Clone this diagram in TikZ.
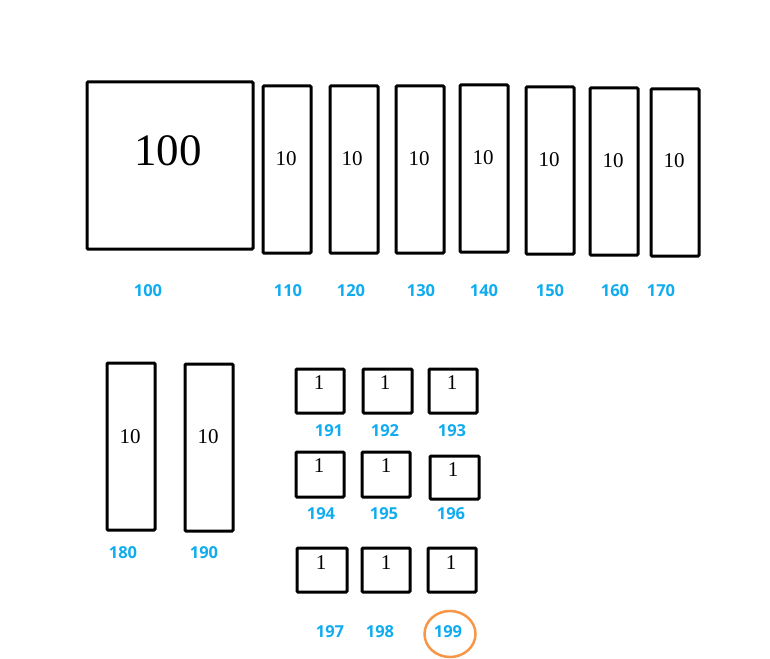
\documentclass[tikz,border=0pt]{standalone}
\usepackage{fontspec}
\usetikzlibrary{shapes.geometric}
\newfontfamily\lblfont{Open Sans}
\newfontfamily\numfont{Liberation Serif}
\definecolor{lblblue}{HTML}{10ACEF}
\definecolor{ringorange}{HTML}{F79646}
\begin{document}
\begin{tikzpicture}[x=1pt,y=-1pt,
  blk/.style={draw=black,line width=3pt,rounded corners=1pt,inner sep=0pt},
  num/.style={inner sep=0pt,font=\numfont\fontsize{21}{21}\selectfont},
  tag/.style={inner sep=0pt,text=lblblue,font=\lblfont\bfseries\fontsize{16.5}{16.5}\selectfont}]
\useasboundingbox (0,0) rectangle (770,658);
% big box
\node[blk,minimum width=166pt,minimum height=167pt] (b100) at (170,165.5) {};
\node[inner sep=0pt,font=\numfont\fontsize{45}{45}\selectfont] (t100) at (168,151) {100};
% tall boxes
\node[blk,minimum width=48pt,minimum height=167pt] (b110) at (287,169.5) {};
\node[blk,minimum width=48pt,minimum height=167pt] (b120) at (354,169.5) {};
\node[blk,minimum width=48pt,minimum height=167pt] (b130) at (420,169.5) {};
\node[blk,minimum width=48pt,minimum height=167pt] (b140) at (484,168.5) {};
\node[blk,minimum width=48pt,minimum height=167pt] (b150) at (550,170.5) {};
\node[blk,minimum width=48pt,minimum height=167pt] (b160) at (614,171.5) {};
\node[blk,minimum width=48pt,minimum height=167pt] (b170) at (675,172.5) {};
\node[blk,minimum width=48pt,minimum height=167pt] (b180) at (131,446.5) {};
\node[blk,minimum width=48pt,minimum height=167pt] (b190) at (209,447.5) {};
\node[num] (t110) at (286,159) {10};
\node[num] (t120) at (352,159) {10};
\node[num] (t130) at (419,159) {10};
\node[num] (t140) at (483,158) {10};
\node[num] (t150) at (549,160) {10};
\node[num] (t160) at (613,161) {10};
\node[num] (t170) at (674,161) {10};
\node[num] (t180) at (130,437) {10};
\node[num] (t190) at (208,437) {10};
% small boxes
\node[blk,minimum width=48pt,minimum height=44pt] (b191) at (320,391) {};
\node[blk,minimum width=49pt,minimum height=44pt] (b192) at (387.5,391) {};
\node[blk,minimum width=48pt,minimum height=44pt] (b193) at (453,391) {};
\node[blk,minimum width=48pt,minimum height=45pt] (b194) at (320,474.5) {};
\node[blk,minimum width=48pt,minimum height=45pt] (b195) at (386,474.5) {};
\node[blk,minimum width=49pt,minimum height=43pt] (b196) at (454.5,477.5) {};
\node[blk,minimum width=50pt,minimum height=44pt] (b197) at (322,570) {};
\node[blk,minimum width=48pt,minimum height=44pt] (b198) at (386,570) {};
\node[blk,minimum width=48pt,minimum height=44pt] (b199) at (452,570) {};
\node[num] (t191) at (319,383) {1};
\node[num] (t192) at (385,383) {1};
\node[num] (t193) at (452,383) {1};
\node[num] (t194) at (319,466) {1};
\node[num] (t195) at (386,466) {1};
\node[num] (t196) at (453,470) {1};
\node[num] (t197) at (321,563) {1};
\node[num] (t198) at (386,563) {1};
\node[num] (t199) at (451,563) {1};
% blue labels
\node[tag] (l100) at (148,291) {100};
\node[tag] (l110) at (288,291) {110};
\node[tag] (l120) at (351,291) {120};
\node[tag] (l130) at (421,291) {130};
\node[tag] (l140) at (484,291) {140};
\node[tag] (l150) at (550,291) {150};
\node[tag] (l160) at (615,291) {160};
\node[tag] (l170) at (661,291) {170};
\node[tag] (l180) at (123,553) {180};
\node[tag] (l190) at (204,553) {190};
\node[tag] (l191) at (329,431) {191};
\node[tag] (l192) at (385,431) {192};
\node[tag] (l193) at (452,431) {193};
\node[tag] (l194) at (321,514) {194};
\node[tag] (l195) at (384,514) {195};
\node[tag] (l196) at (451,514) {196};
\node[tag] (l197) at (330,632) {197};
\node[tag] (l198) at (380,632) {198};
\node[tag] (l199) at (448,632) {199};
% orange ring
\node[draw=ringorange,line width=2.5pt,ellipse,minimum width=51pt,minimum height=46pt,inner sep=0pt] (ring) at (450,634) {};
\end{tikzpicture}
\end{document}
